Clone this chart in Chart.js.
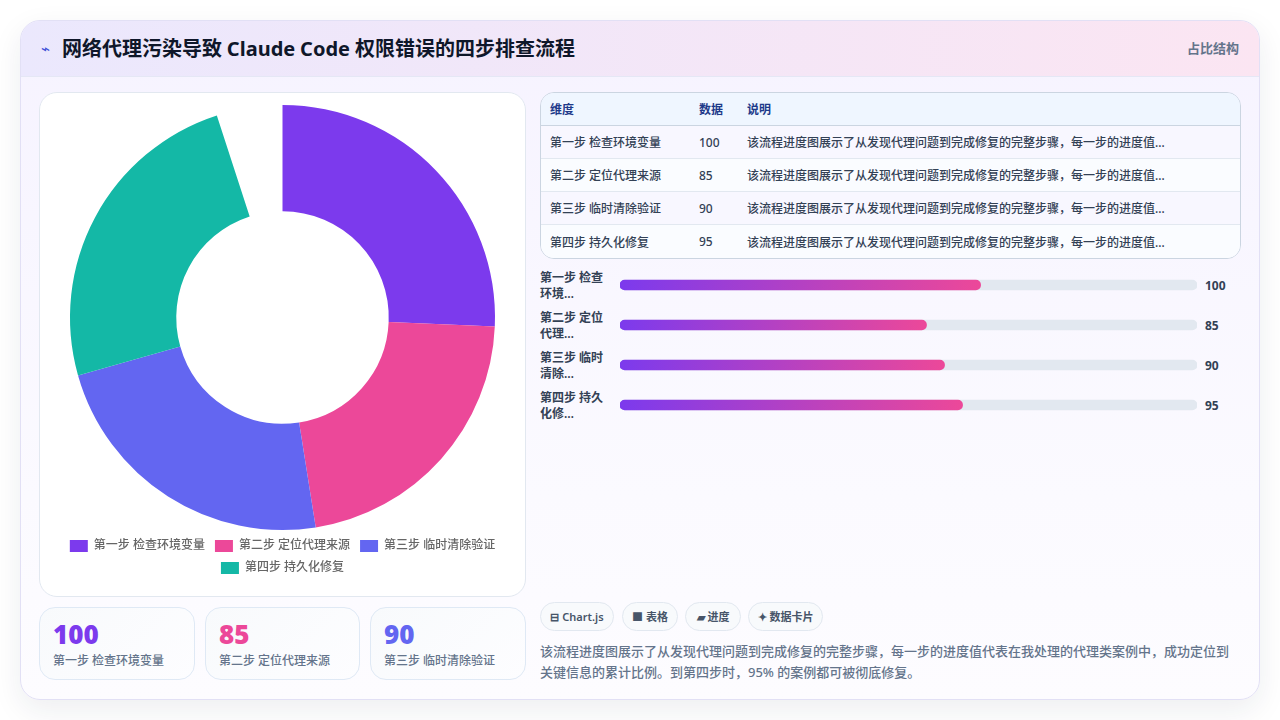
<!DOCTYPE html>
<html lang="zh-CN"><head><meta charset="utf-8">
<script src="https://cdn.jsdelivr.net/npm/chart.js@4"></script>
<style>
*{box-sizing:border-box}
html,body{margin:0;width:1280px;height:720px;overflow:hidden;background:#fff;font-family:"Noto Sans","Noto Sans CJK SC",sans-serif}
.card{position:absolute;left:20px;top:20px;width:1240px;height:680px;border:1px solid #e2e0f5;border-radius:20px;overflow:hidden;background:linear-gradient(180deg,#f6f3ff 0%,#fbfaff 70%,#fdfcff 100%)}
.shadow{position:absolute;left:20px;top:20px;width:1240px;height:680px;border-radius:20px;box-shadow:0 10px 30px rgba(30,41,59,.08)}
.head{position:absolute;left:0;top:0;width:100%;height:56px;background:linear-gradient(90deg,#ebe8fd,#fbe5f2);border-bottom:1px solid #e5e7f5}
.icon{position:absolute;left:20px;top:17px;font-size:15px;line-height:22px;color:#3f4fd8;font-family:"DejaVu Sans"}
.title{position:absolute;left:41px;top:14px;font-size:20px;font-weight:700;word-spacing:-.33px;line-height:28px;color:#0f172a;white-space:nowrap}
.kind{position:absolute;right:20px;top:18px;font-size:13px;font-weight:600;line-height:18px;color:#64748b}
.abs{position:absolute}
.pie{left:18px;top:71px;width:487px;height:505px;background:#fff;border:1px solid #e2e8f0;border-radius:18px}
.pie div{position:absolute;left:12px;top:12px;width:461px;height:479px}
table{position:absolute;left:519px;top:71px;width:701px;height:167px;border-collapse:separate;border-spacing:0;border:1px solid #cbd5e1;border-radius:14px;overflow:hidden;font-size:12px;table-layout:fixed}
th{background:#eff6ff;color:#1e3a8a;font-weight:600;text-align:left;padding:0 9px;height:33px;border-bottom:1px solid #cbd5e1}
td{color:#334155;font-weight:500;padding:0 9px;height:33px;border-bottom:1px solid #e2e8f0;white-space:nowrap;background:#f8f7ff}
tr:nth-child(odd) td{background:#fafcff}
tr:last-child td{border-bottom:0}
.rowlab{position:absolute;left:519px;width:72px;font-size:12px;font-weight:600;line-height:16px;color:#334155}
.rowval{position:absolute;left:1184px;font-size:12px;font-weight:700;line-height:16px;color:#334155}
.bars{left:599px;top:244px;width:577px;height:160px}
.stat{position:absolute;top:586px;height:73px;border:1px solid #dfe9f5;border-radius:16px;background:linear-gradient(135deg,#f8fafc,#fdfdff);padding:0 13px}
.stat b{display:block;font-size:26px;font-weight:900;line-height:30px;margin-top:11px}
.stat span{display:block;font-size:12px;line-height:17px;font-weight:500;color:#64748b;margin-top:3px;white-space:nowrap}
.tag{position:absolute;top:581px;height:29px;border:1px solid #e2e8f0;border-radius:15px;background:#f8fafc;font-size:11px;font-weight:600;line-height:27px;color:#475569;text-align:center;white-space:nowrap}
.note{left:519px;top:620px;width:698px;font-size:13px;font-weight:500;line-height:21px;color:#64748b}
</style></head><body>
<div class="shadow"></div>
<div class="card">
 <div class="head"><span class="icon" id="icon"></span><div class="title" id="title"></div><div class="kind" id="kind"></div></div>
 <div class="abs pie"><div><canvas id="pie"></canvas></div></div>
 <table id="tbl"></table>
 <div id="rows"></div>
 <div class="abs bars"><canvas id="bars"></canvas></div>
 <div id="stats"></div>
 <div id="tags"></div>
 <div class="abs note" id="note"></div>
</div>
<script>
const iconText="⌁";
const titleText="网络代理污染导致 Claude Code 权限错误的四步排查流程";
const kindText="占比结构";
const categories=["第一步 检查环境变量","第二步 定位代理来源","第三步 临时清除验证","第四步 持久化修复"];
const shortLabels=["第一步 检查<br>环境…","第二步 定位<br>代理…","第三步 临时<br>清除…","第四步 持久<br>化修…"];
const values=[100,85,90,95];
const colors=["#7c3aed","#ec4899","#6366f1","#14b8a6"];
const tableHead=["维度","数据","说明"];
const rowNote="该流程进度图展示了从发现代理问题到完成修复的完整步骤，每一步的进度值…";
const tagNames=["⊟ Chart.js","■ 表格","▰ 进度","✦ 数据卡片"];
const noteText="该流程进度图展示了从发现代理问题到完成修复的完整步骤，每一步的进度值代表在我处理的代理类案例中，成功定位到关键信息的累计比例。到第四步时，95% 的案例都可被彻底修复。";
const barAxisMax=160;
const trackValues=[160,160,160,160];

document.getElementById('icon').textContent=iconText;
document.getElementById('title').textContent=titleText;
document.getElementById('kind').textContent=kindText;
document.getElementById('note').textContent=noteText;
document.getElementById('tbl').innerHTML=
 '<colgroup><col style="width:149px"><col style="width:48px"><col></colgroup>'+
 '<tr>'+tableHead.map(h=>'<th>'+h+'</th>').join('')+'</tr>'+
 categories.map((c,i)=>'<tr><td>'+c+'</td><td>'+values[i]+'</td><td>'+rowNote+'</td></tr>').join('');
document.getElementById('rows').innerHTML=categories.map((c,i)=>
 '<div class="rowlab" style="top:'+(249+40*i)+'px">'+shortLabels[i]+'</div>'+
 '<div class="rowval" style="top:'+(257+40*i)+'px">'+values[i]+'</div>').join('');
const statX=[18,184,349],statW=[156,155,156];
document.getElementById('stats').innerHTML=[0,1,2].map(i=>
 '<div class="stat" style="left:'+statX[i]+'px;width:'+statW[i]+'px"><b style="color:'+colors[i]+'">'+values[i]+'</b><span>'+categories[i]+'</span></div>').join('');
const tagX=[519,601,664,727],tagW=[74,56,56,75];
document.getElementById('tags').innerHTML=tagNames.map((t,i)=>
 '<div class="tag" style="left:'+tagX[i]+'px;width:'+tagW[i]+'px">'+t+'</div>').join('');

Chart.defaults.font.family='"Noto Sans","Noto Sans CJK SC",sans-serif';
Chart.defaults.animation=false;
new Chart(document.getElementById('pie'),{
 type:'doughnut',
 data:{labels:categories,datasets:[{data:values,backgroundColor:colors,borderWidth:0}]},
 options:{responsive:true,maintainAspectRatio:false,circumference:342,rotation:0,cutout:'50%',
  plugins:{legend:{position:'bottom',labels:{boxWidth:18,color:'#666',font:{size:12,weight:'500'}}},tooltip:{enabled:false}}}
});
new Chart(document.getElementById('bars'),{
 type:'bar',
 data:{labels:categories,datasets:[
  {data:values,order:1,barThickness:10,borderRadius:5,borderSkipped:false,
   backgroundColor(ctx){
    const a=ctx.chart.chartArea; if(!a) return colors[0];
    const x=ctx.chart.scales.x, end=x.getPixelForValue(ctx.parsed.x);
    const g=ctx.chart.ctx.createLinearGradient(a.left,0,end,0);
    g.addColorStop(0,'#7c3aed');g.addColorStop(1,'#ec4899');return g;}},
  {data:trackValues,order:2,barThickness:10,borderRadius:5,borderSkipped:false,backgroundColor:'#e2e8f0'}
 ]},
 options:{indexAxis:'y',responsive:true,maintainAspectRatio:false,
  scales:{x:{display:false,min:0,max:barAxisMax,stacked:false},y:{display:false,stacked:true}},
  plugins:{legend:{display:false},tooltip:{enabled:false}}}
});
</script></body></html>
